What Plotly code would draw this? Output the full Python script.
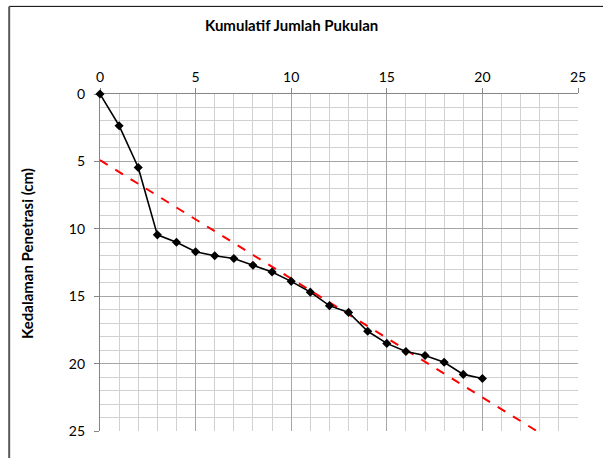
import plotly.graph_objects as go

# Data
blows = [0, 1, 2, 3, 4, 5, 6, 7, 8, 9, 10, 11, 12, 13, 14, 15, 16, 17, 18, 19, 20]
depth = [0, 2.35, 5.45, 10.45, 11.0, 11.7, 12.0, 12.2, 12.7, 13.2, 13.9,
         14.7, 15.7, 16.2, 17.6, 18.5, 19.1, 19.4, 19.9, 20.8, 21.1]
trend_x = [0, 22.84]
trend_y = [4.9, 25]

x_title = "Kumulatif Jumlah Pukulan"
y_title = "Kedalaman Penetrasi (cm)"
FONT = "Lato"

fig = go.Figure()
fig.add_trace(go.Scatter(
    x=trend_x, y=trend_y, mode="lines",
    line=dict(color="#ff0000", width=2, dash="dash"),
    showlegend=False, cliponaxis=True))
fig.add_trace(go.Scatter(
    x=blows, y=depth, mode="lines+markers",
    line=dict(color="#000000", width=1.6),
    marker=dict(symbol="diamond", size=7, color="#000000"),
    showlegend=False, cliponaxis=False))

axis_common = dict(
    showgrid=True, gridcolor="#a6a6a6", gridwidth=1.3,
    showline=True, linecolor="#868686", linewidth=1.3,
    ticks="outside", ticklen=5, tickcolor="#868686", tickwidth=1,
    tickfont=dict(family=FONT, size=14, color="#000000"),
    zeroline=False, layer="below traces",
    minor=dict(dtick=1, showgrid=True, gridcolor="#d0d0d0", gridwidth=1.3, ticks=""),
)

fig.update_layout(
    width=603, height=458,
    margin=dict(l=100, r=25, t=94, b=27),
    paper_bgcolor="white", plot_bgcolor="white",
    xaxis=dict(range=[0, 25], dtick=5, side="top", **axis_common),
    yaxis=dict(range=[25, 0], dtick=5, ticklabelstandoff=6, **axis_common),
    annotations=[
        dict(text=x_title, xref="paper", yref="paper", x=0.40, y=1.205,
             showarrow=False, font=dict(family=FONT, size=15, color="#000000", weight="bold"),
             xanchor="center", yanchor="middle"),
        dict(text=y_title, xref="paper", yref="paper", x=-0.153, y=0.528,
             showarrow=False, textangle=-90,
             font=dict(family=FONT, size=15, color="#000000", weight="bold"),
             xanchor="center", yanchor="middle"),
    ],
    shapes=[
        dict(type="line", xref="paper", yref="paper", x0=-0.190, x1=1.2, y0=1.26, y1=1.26,
             line=dict(color="#000000", width=1)),
        dict(type="line", xref="paper", yref="paper", x0=-0.190, x1=-0.190, y0=-0.2, y1=1.26,
             line=dict(color="#595959", width=2)),
    ],
)

fig.write_html("out.html", config={"displayModeBar": False},
               post_script="document.body.style.margin='0';")
